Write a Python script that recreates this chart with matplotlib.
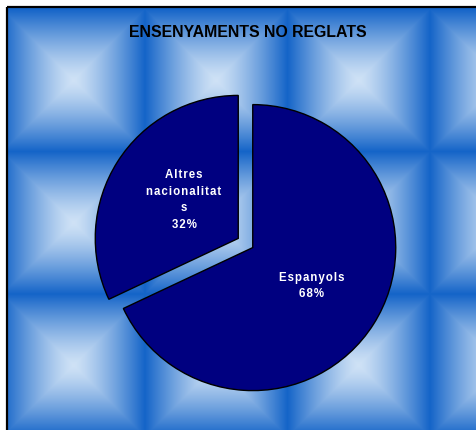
import numpy as np
import matplotlib
matplotlib.use("Agg")
import matplotlib.pyplot as plt
from matplotlib.colors import to_rgb

# ---- data ----
title = "ENSENYAMENTS NO REGLATS"
categories = ["Espanyols", "Altres\nnacionalitat\ns"]
values = [68, 32]
pct_labels = ["68%", "32%"]

W, H = 477, 430
DPI = 100
fig = plt.figure(figsize=(W / DPI, H / DPI), dpi=DPI)
fig.patch.set_facecolor("white")

# ---- tiled bevel background ----
bg = fig.add_axes([0, 0, 1, 1])
bg.set_xlim(0, W)
bg.set_ylim(H, 0)
bg.axis("off")
x0, y0 = 8, 8
tile = 142.5
xs = np.arange(x0, W) + 0.5
ys = np.arange(y0, H) + 0.5
X, Y = np.meshgrid(xs, ys)
u = ((X - 2.5) % tile) / tile * 2 - 1
v = ((Y - 9) % tile) / tile * 2 - 1
t = np.maximum(np.abs(u), np.abs(v))
t = np.clip(t, 0, 1) ** 1.3
light = np.array(to_rgb("#cfe2f6"))
dark = np.array(to_rgb("#1464c8"))
img = light[None, None, :] * (1 - t[..., None]) + dark[None, None, :] * t[..., None]
bg.imshow(img, extent=(x0, W, H, y0), interpolation="bilinear", zorder=0)
bg.plot([7, 7], [H, 6.5], color="black", lw=1.6, zorder=2, solid_capstyle="butt")
bg.plot([7, W], [6.5, 6.5], color="black", lw=1.6, zorder=2, solid_capstyle="butt")
bg.text(247.5, 32.5, title, ha="center", va="center", fontsize=11.4,
        fontweight="bold", family="Liberation Sans", color="black")

# ---- pie ----
R = 143.0
cx, cy = 245.5, 243.0
lim = 1.5
side = 2 * lim * R
ax = fig.add_axes([(cx - side / 2) / W, (H - cy - side / 2) / H, side / W, side / H])

wedges, _ = ax.pie(values, startangle=90, counterclock=False, radius=1,
                   explode=[0.06, 0.06],
                   colors=["#000080", "#000080"],
                   wedgeprops=dict(edgecolor="black", linewidth=1.0))
ax.set_xlim(-lim, lim)
ax.set_ylim(-lim, lim)
ax.set_aspect("equal")
ax.axis("off")
ax.patch.set_alpha(0)

def spaced(s):
    return "\n".join("\u200a".join(list(line)) for line in s.split("\n"))

label_pos = [((312 - cx) / R, -(286 - cy) / R), ((184 - cx) / R, -(200 - cy) / R)]
for cat, pct, (lx, ly) in zip(categories, pct_labels, label_pos):
    ax.text(lx, ly, spaced(cat + "\n" + pct), ha="center", va="center",
            color="white", fontsize=8.3, fontweight="bold",
            family=["Liberation Sans", "DejaVu Sans"], linespacing=1.5)

fig.savefig("out.png", dpi=DPI)
